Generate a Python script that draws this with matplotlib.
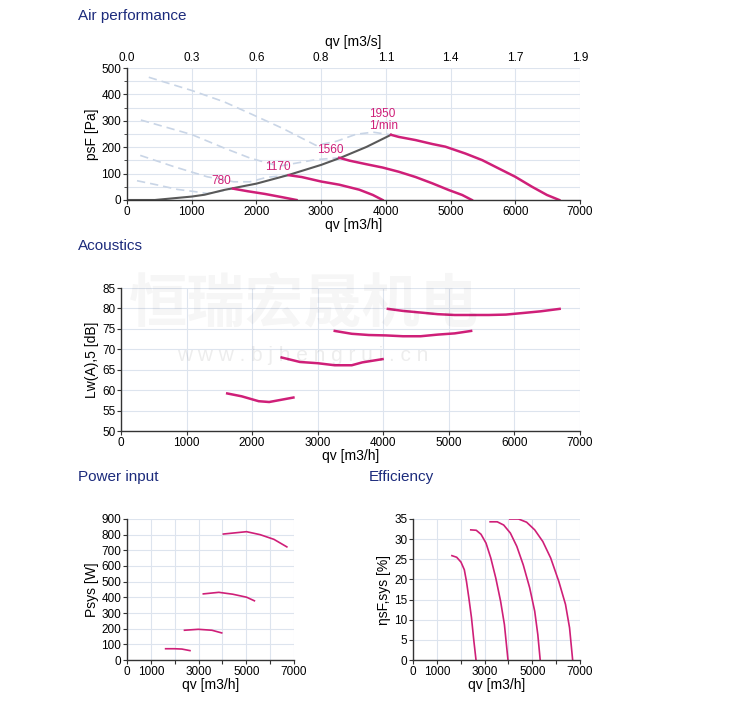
import matplotlib.pyplot as plt
import numpy as np

plt.rcParams['font.family'] = ['Liberation Sans', 'DejaVu Sans']

# curva do sistema (cinza)
sys_q = [0, 430, 1000, 1200, 1500, 2000, 2500, 3000, 3300, 3700, 4080]
sys_p = [0, 0, 13, 20, 38, 62, 95, 133, 160, 201, 247]

speeds = ['780', '1170', '1560', '1950']

# desempenho - parte estavel
q780 = [1640, 1870, 2130, 2390, 2620]
p780 = [43, 33, 23, 11, 0]
q1170 = [2500, 2700, 3000, 3280, 3590, 3800, 3950]
p1170 = [94, 87, 70, 58, 39, 19, 0]
q1560 = [3280, 3440, 3690, 3950, 4200, 4460, 4720, 4970, 5180, 5330]
p1560 = [160, 149, 136, 123, 107, 87, 63, 38, 19, 0]
q1950 = [4080, 4200, 4460, 4720, 4920, 5230, 5490, 5740, 6000, 6260, 6490, 6680]
p1950 = [247, 239, 227, 212, 202, 176, 151, 120, 88, 50, 19, 0]

# desempenho - parte instavel (tracejada)
d780_q = [155, 470, 780, 1040, 1240, 1420, 1640]
d780_p = [73, 57, 40, 32, 25, 32, 43]
d1170_q = [205, 730, 1240, 1650, 1900, 2160, 2500]
d1170_p = [169, 126, 88, 69, 69, 86, 94]
d1560_q = [215, 1000, 1500, 1900, 2350, 2620, 2920, 3280]
d1560_p = [303, 248, 197, 159, 128, 140, 153, 160]
d1950_q = [337, 1000, 1500, 1900, 2400, 2920, 3230, 3540, 3800, 4080]
d1950_p = [465, 415, 372, 328, 272, 207, 222, 249, 257, 247]

# acustica
a780_q = [1620, 1840, 2100, 2260, 2630]
a780 = [59.2, 58.5, 57.3, 57.1, 58.2]
a1170_q = [2450, 2730, 3000, 3260, 3520, 3680, 3990]
a1170 = [68.0, 66.9, 66.6, 66.1, 66.1, 66.8, 67.6]
a1560_q = [3260, 3520, 3780, 4040, 4300, 4570, 4830, 5090, 5340]
a1560 = [74.5, 73.8, 73.5, 73.4, 73.2, 73.2, 73.6, 73.9, 74.5]
a1950_q = [4070, 4300, 4570, 4830, 5090, 5350, 5610, 5870, 6140, 6400, 6690]
a1950 = [79.9, 79.4, 79.0, 78.6, 78.4, 78.4, 78.4, 78.5, 78.9, 79.3, 79.9]

# potencia
w780_q = [1620, 2000, 2300, 2640]
w780 = [72, 72, 70, 60]
w1170_q = [2410, 2990, 3560, 3970]
w1170 = [190, 196, 190, 173]
w1560_q = [3200, 3850, 4430, 5010, 5340]
w1560 = [422, 432, 420, 401, 378]
w1950_q = [4040, 5010, 5580, 6160, 6700]
w1950 = [804, 819, 800, 770, 722]

# eficiencia
e780_q = [1630, 1830, 2010, 2150, 2240, 2340, 2450, 2550, 2640]
e780 = [25.9, 25.5, 24.3, 22.4, 19.5, 15.4, 10.5, 4.7, 0]
e1170_q = [2420, 2650, 2850, 3060, 3260, 3470, 3670, 3830, 3980]
e1170 = [32.3, 32.2, 31.2, 29.0, 25.3, 20.3, 14.6, 8.8, 0]
e1560_q = [3230, 3530, 3800, 4080, 4350, 4620, 4890, 5100, 5230, 5330]
e1560 = [34.3, 34.3, 33.5, 31.5, 28.2, 23.6, 17.9, 12.1, 6.3, 0]
e1950_q = [4050, 4420, 4760, 5100, 5440, 5770, 6110, 6390, 6560, 6690]
e1950 = [35.0, 35.0, 34.2, 32.3, 29.4, 25.3, 19.5, 13.8, 8.0, 0]

mag = '#cf1f78'
grid_c = '#dde4ee'
navy = '#1c2b7c'
qv_ticks = np.arange(0, 7001, 1000)


def base(ax, ymax, ystep, ygrid):
    ax.set_xlim(0, 7000)
    ax.set_ylim(0, ymax)
    ax.set_xticks(qv_ticks)
    ax.set_yticks(np.arange(0, ymax + 1, ystep))
    ax.set_yticks(np.arange(0, ymax + 1, ygrid), minor=True)
    ax.grid(True, which='both', color=grid_c, lw=0.8)
    ax.set_axisbelow(True)
    for s in ['top', 'right']:
        ax.spines[s].set_visible(False)
    for s in ['left', 'bottom']:
        ax.spines[s].set_color('#333333')
        ax.spines[s].set_linewidth(1.0)
    ax.tick_params(labelsize=8.5, length=3, color='#333333', pad=1)
    ax.tick_params(which='minor', length=2, color='#333333')
    ax.set_xlabel('qv [m3/h]', fontsize=10, labelpad=0)


fig = plt.figure(figsize=(7.5, 7.02), dpi=100)

# desempenho do ar
ax1 = fig.add_axes([0.1693, 0.7151, 0.604, 0.188])
base(ax1, 500, 100, 50)
ax1.set_ylabel('psF [Pa]', fontsize=10, labelpad=2)
for q, p in [(d780_q, d780_p), (d1170_q, d1170_p), (d1560_q, d1560_p), (d1950_q, d1950_p)]:
    ax1.plot(q, p, color='#c9d5e6', lw=1.2, ls=(0, (5, 3)))
ax1.plot(sys_q, sys_p, color='#595959', lw=1.5)
for q, p in [(q780, p780), (q1170, p1170), (q1560, p1560), (q1950, p1950)]:
    ax1.plot(q, p, color=mag, lw=1.8)
lab_pos = [(1459, 73), (2325, 126), (3138, 191), (3945, 325)]
for s, (x, y) in zip(speeds, lab_pos):
    ax1.text(x, y, s, color=mag, fontsize=8.5, ha='center', va='center')
ax1.text(3965, 281, '1/min', color=mag, fontsize=8.5, ha='center', va='center')
ax_top = ax1.twiny()
ax_top.set_xlim(0, 7000)
ax_top.set_xticks(qv_ticks)
ax_top.set_xticklabels([f'{q / 3600:.1f}' for q in qv_ticks])
ax_top.tick_params(labelsize=8.5, length=0, pad=3)
for s in ax_top.spines.values():
    s.set_visible(False)
ax_top.set_xlabel('qv [m3/s]', fontsize=10, labelpad=4)
fig.text(0.104, 0.977, 'Air performance', color=navy, fontsize=11, va='center')

# acustica
ax2 = fig.add_axes([0.1613, 0.386, 0.612, 0.2037])
base(ax2, 85, 5, 5)
ax2.set_ylim(50, 85)
ax2.set_yticks(np.arange(50, 86, 5))
ax2.set_ylabel('Lw(A),5 [dB]', fontsize=10, labelpad=2)
for q, a in [(a780_q, a780), (a1170_q, a1170), (a1560_q, a1560), (a1950_q, a1950)]:
    ax2.plot(q, a, color=mag, lw=1.8)
fig.text(0.104, 0.649, 'Acoustics', color=navy, fontsize=11, va='center')

# marca d'agua
fig.text(0.405, 0.566, '恒瑞宏晟机电', color='#000000', alpha=0.035, fontsize=42,
         fontweight='bold', ha='center', va='center',
         family=['Noto Sans CJK SC', 'DejaVu Sans'])
fig.text(0.403, 0.493, 'w w w . b j h e n g r u i . c n', color='#000000', alpha=0.07,
         fontsize=15, ha='center', va='center')

# potencia
ax3 = fig.add_axes([0.1693, 0.0598, 0.2227, 0.2009])
base(ax3, 900, 100, 100)
ax3.set_xticklabels(['0', '1000', '', '3000', '', '5000', '', '7000'])
ax3.set_ylabel('Psys [W]', fontsize=10, labelpad=2)
for q, w in [(w780_q, w780), (w1170_q, w1170), (w1560_q, w1560), (w1950_q, w1950)]:
    ax3.plot(q, w, color=mag, lw=1.2)
fig.text(0.104, 0.3205, 'Power input', color=navy, fontsize=11, va='center')

# eficiencia
ax4 = fig.add_axes([0.5507, 0.0598, 0.2227, 0.2009])
base(ax4, 35, 5, 5)
ax4.set_xticklabels(['0', '1000', '', '3000', '', '5000', '', '7000'])
ax4.set_ylabel('ηsF,sys [%]', fontsize=10, labelpad=2)
for q, e in [(e780_q, e780), (e1170_q, e1170), (e1560_q, e1560), (e1950_q, e1950)]:
    ax4.plot(q, e, color=mag, lw=1.2)
fig.text(0.491, 0.3205, 'Efficiency', color=navy, fontsize=11, va='center')

fig.savefig('out.png', dpi=100)
